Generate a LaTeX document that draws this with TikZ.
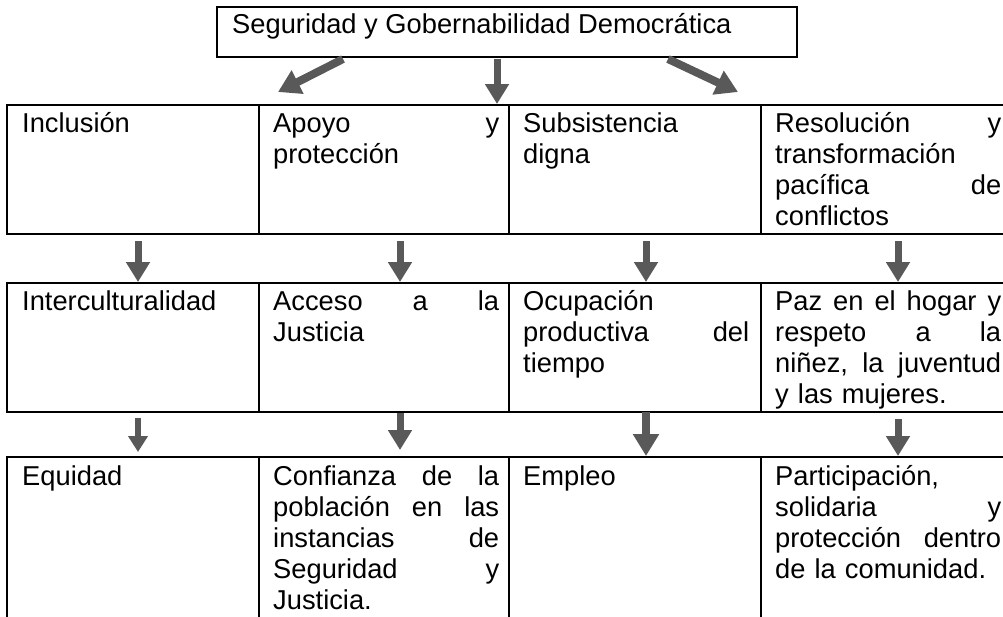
\documentclass[tikz,border=0pt]{standalone}
\usepackage{fontspec}
\setmainfont{Liberation Sans}
\usetikzlibrary{arrows.meta,calc}
\definecolor{arrgray}{RGB}{89,89,89}
\newcommand\fs{\rule{0pt}{23pt}}
\begin{document}
\begin{tikzpicture}[x=1pt,y=-1pt,
  box/.style={draw=black,line width=1.6pt,rectangle,inner sep=0pt,outer sep=0pt,anchor=north west},
  cellA/.style={box,minimum height=129pt},
  cellB/.style={box,minimum height=200pt},
  wa/.style={minimum width=252pt},
  wb/.style={minimum width=250pt},
  txt/.style={anchor=north west,inner sep=0pt,text width=226pt,align=left,font=\fontsize{27.3}{31}\selectfont},
  bigarrow/.style={draw=arrgray,line width=7pt,-{Triangle[width=23pt,length=20pt]}},
  smallarrow/.style={draw=arrgray,line width=6pt,-{Triangle[width=19pt,length=16pt]}},
  diagarrow/.style={draw=arrgray,line width=8pt,-{Triangle[width=25pt,length=22pt]}},
]
\useasboundingbox (0,0) rectangle (1003,616);
\clip (0,0) rectangle (1003,616);

% title
\node[box,minimum width=580pt,minimum height=50pt] (top) at (217,7) {};
\node[anchor=base west,inner sep=0pt,font=\fontsize{27.3}{31}\selectfont] (toptxt) at (232,33) {Seguridad y Gobernabilidad Democrática};

% row 1
\node[cellA,wa] (c11) at (7,105) {};
\node[cellA,wb] (c12) at (259,105) {};
\node[cellA,wa] (c13) at (509,105) {};
\node[cellA,wa] (c14) at (761,105) {};
% row 2
\node[cellA,wa] (c21) at (7,283) {};
\node[cellA,wb] (c22) at (259,283) {};
\node[cellA,wa] (c23) at (509,283) {};
\node[cellA,wa] (c24) at (761,283) {};
% row 3
\node[cellB,wa] (c31) at (7,457) {};
\node[cellB,wb] (c32) at (259,457) {};
\node[cellB,wa] (c33) at (509,457) {};
\node[cellB,wa] (c34) at (761,457) {};

% texts
\node[txt] (t11) at ($(c11.north west)+(15,4)$) {\fs Inclusión};
\node[txt] (t12) at ($(c12.north west)+(14,4)$) {\fs Apoyo\hfill y\\protección};
\node[txt] (t13) at ($(c13.north west)+(14,4)$) {\fs Subsistencia\\digna};
\node[txt] (t14) at ($(c14.north west)+(14,4)$) {\fs Resolución\hfill y\\transformación\\pacífica\hfill de\\conflictos};
\node[txt] (t21) at ($(c21.north west)+(15,4)$) {\fs Interculturalidad};
\node[txt] (t22) at ($(c22.north west)+(14,4)$) {\fs Acceso\hfill a\hfill la\\Justicia};
\node[txt] (t23) at ($(c23.north west)+(14,4)$) {\fs Ocupación\\productiva\hfill del\\tiempo};
\node[txt] (t24) at ($(c24.north west)+(14,4)$) {\fs Paz\hfill en\hfill el\hfill hogar\hfill y\\respeto\hfill a\hfill la\\niñez,\hfill la\hfill juventud\\y las mujeres.};
\node[txt] (t31) at ($(c31.north west)+(15,5)$) {\fs Equidad};
\node[txt] (t32) at ($(c32.north west)+(14,5)$) {\fs Confianza\hfill de\hfill la\\población\hfill en\hfill las\\instancias\hfill de\\Seguridad\hfill y\\Justicia.};
\node[txt] (t33) at ($(c33.north west)+(14,5)$) {\fs Empleo};
\node[txt] (t34) at ($(c34.north west)+(14,5)$) {\fs Participación,\\solidaria\hfill y\\protección\hfill dentro\\de la comunidad.};

% arrows from title
\draw[diagarrow] ($(top.south west)+(126,2)$) -- ($(c11.north east)+(19,-13)$);
\draw[bigarrow] ($(top.south west)+(280,2)$) -- ($(c12.north east)+(-12,-1)$);
\draw[diagarrow] ($(top.south east)+(-129,2)$) -- ($(c14.north west)+(-23,-13)$);

% arrows row 1 -> row 2
\draw[bigarrow] ($(c11.south)+(5,7)$) -- ($(c21.north)+(5,-1)$);
\draw[bigarrow] ($(c12.south)+(16,7)$) -- ($(c22.north)+(16,-1)$);
\draw[bigarrow] ($(c13.south)+(11,7)$) -- ($(c23.north)+(11,-1)$);
\draw[bigarrow] ($(c14.south)+(11,7)$) -- ($(c24.north)+(11,-1)$);

% arrows row 2 -> row 3
\draw[smallarrow] ($(c21.south)+(5,6)$) -- ($(c31.north)+(5,-5)$);
\draw[bigarrow] ($(c22.south)+(16,1)$) -- ($(c32.north)+(16,-7)$);
\draw[diagarrow] ($(c23.south)+(11,0)$) -- ($(c33.north)+(11,-1)$);
\draw[bigarrow] ($(c24.south)+(11,7)$) -- ($(c34.north)+(11,-1)$);
\end{tikzpicture}
\end{document}
